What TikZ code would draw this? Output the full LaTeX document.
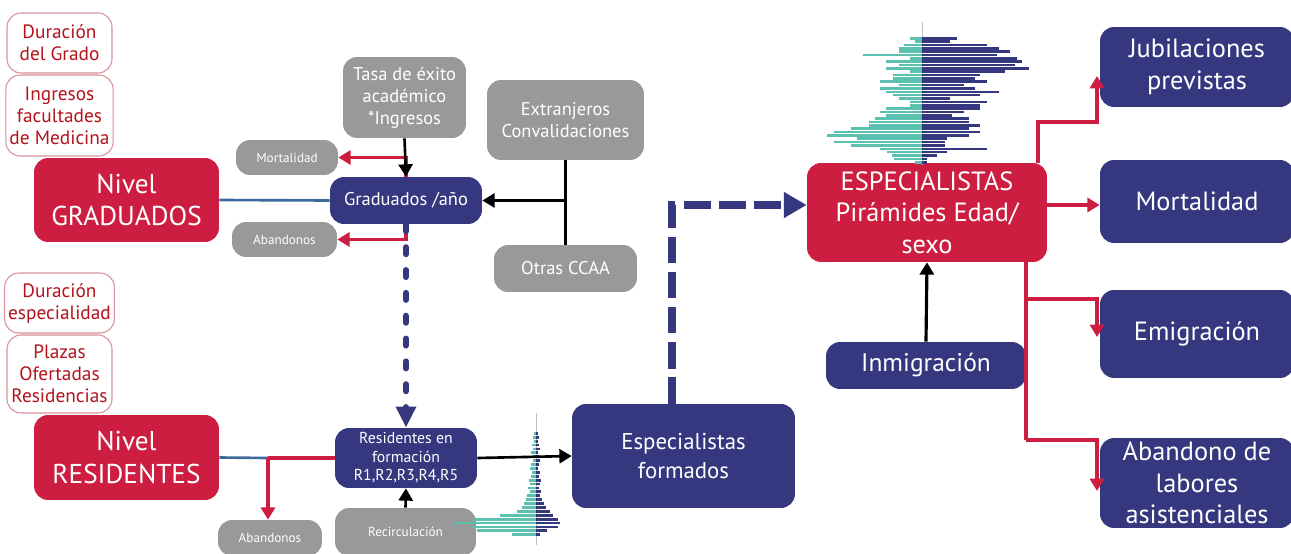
\documentclass[tikz,border=0pt]{standalone}
\usepackage{fontspec}
\setmainfont{PT Sans}
\usepackage{tikz}
\usetikzlibrary{arrows.meta}
\definecolor{crim}{HTML}{CD1E41}
\definecolor{navy}{HTML}{35387F}
\definecolor{grey}{HTML}{999999}
\definecolor{pyrteal}{HTML}{5CC0B0}
\definecolor{steel}{HTML}{3D6A9C}
\definecolor{dred}{HTML}{B5121B}
\definecolor{rimred}{HTML}{D9909B}
\tikzset{
  box/.style={rounded corners=8pt, align=center, inner sep=2pt, text=white},
  crbox/.style={box, fill=crim},
  nvbox/.style={box, fill=navy},
  gybox/.style={box, fill=grey},
  inbox/.style={box, draw=rimred, fill=white, text=dred, line width=0.6pt, font=\fontsize{11}{12.5}\selectfont},
  fbig/.style={font=\fontsize{15.5}{18.5}\selectfont},
  fright/.style={font=\fontsize{15}{18}\selectfont},
  fmid/.style={font=\fontsize{10.5}{12.5}\selectfont},
  fres/.style={font=\fontsize{9}{10.5}\selectfont},
  ftiny/.style={font=\fontsize{7.5}{8.5}\selectfont},
  rarr/.style={draw=crim, line width=2pt, -{Triangle[width=8pt,length=7pt]}},
  barr/.style={draw=black, line width=1.5pt, -{Triangle[width=8pt,length=7pt]}},
  blink/.style={draw=steel, line width=1.5pt},
  rlink/.style={draw=crim, line width=2pt},
  dotflow/.style={draw=navy, line width=3.4pt, line cap=round, dash pattern=on 4pt off 9pt, -{Triangle[width=11pt,length=12pt]}},
  dashflow/.style={draw=navy, line width=4pt, dash pattern=on 15pt off 5pt, -{Triangle[width=14pt,length=13pt]}},
}

\begin{document}
\begin{tikzpicture}[x=0.02cm, y=-0.02cm]
  \useasboundingbox (0,0) rectangle (1291,554);
  \clip (0,0) rectangle (1291,554);

  % graduates level
  \node[inbox, minimum width=2.1cm, minimum height=1.2cm] (durG) at (59.5,43) {Duración\\del Grado};
  \node[inbox, minimum width=2.1cm, minimum height=1.62cm] (ingF) at (59.5,115.5) {Ingresos\\facultades\\de Medicina};
  \node[crbox, fbig, minimum width=3.7cm, minimum height=1.68cm] (nivG) at (126.5,200) {Nivel\\GRADUADOS};
  \node[gybox, ftiny, minimum width=2.04cm, minimum height=0.7cm] (mortG) at (287,157.5) {Mortalidad};
  \node[gybox, ftiny, minimum width=2.1cm, minimum height=0.7cm] (abanG) at (284.5,239.5) {Abandonos};
  \node[gybox, fmid, minimum width=2.46cm, minimum height=1.62cm] (tasa) at (404.5,97.5) {Tasa de éxito\\académico\\*Ingresos};
  \node[nvbox, fmid, minimum width=3.04cm, minimum height=0.94cm] (grad) at (406,200.5) {Graduados /año};
  \node[gybox, fmid, minimum width=3.14cm, minimum height=1.6cm] (extr) at (565.5,120) {Extranjeros\\Convalidaciones};
  \node[gybox, fmid, minimum width=2.86cm, minimum height=0.94cm] (otras) at (565.5,268.5) {Otras CCAA};

  % residents level
  \node[inbox, minimum width=2.1cm, minimum height=1.2cm] (durE) at (59.5,303) {Duración\\especialidad};
  \node[inbox, minimum width=2.1cm, minimum height=1.56cm] (plaz) at (59.5,374) {Plazas\\Ofertadas\\Residencias};
  \node[crbox, fbig, minimum width=3.7cm, minimum height=1.7cm] (nivR) at (126.5,457.5) {Nivel\\RESIDENTES};
  \node[nvbox, fres, minimum width=2.84cm, minimum height=1.2cm] (resi) at (406,458) {Residentes en\\formación\\R1,R2,R3,R4,R5};
  \node[gybox, ftiny, minimum width=2.08cm, minimum height=0.72cm] (abanR) at (270,538) {Abandonos};
  \node[gybox, ftiny, minimum width=2.82cm, minimum height=0.96cm] (recir) at (405.5,532) {Recirculación};
  \node[nvbox, font=\fontsize{13}{16}\selectfont, minimum width=4.46cm, minimum height=2.08cm] (espF) at (683.5,456) {Especialistas\\formados};

  % specialists
  \node[crbox, font=\fontsize{15}{18}\selectfont, minimum width=4.8cm, minimum height=1.98cm] (espE) at (927,212.5) {ESPECIALISTAS\\Pirámides Edad/\\sexo};
  \node[nvbox, font=\fontsize{14.5}{16}\selectfont, minimum width=4cm, minimum height=0.94cm] (inmi) at (926,365.5) {Inmigración};
  \node[nvbox, fright, minimum width=3.88cm, minimum height=1.6cm] (jubi) at (1197,67) {Jubilaciones\\previstas};
  \node[nvbox, fright, minimum width=3.88cm, minimum height=1.66cm] (mortE) at (1197,201.5) {Mortalidad};
  \node[nvbox, fright, minimum width=3.88cm, minimum height=1.76cm] (emig) at (1197,334) {Emigración};
  \node[nvbox, fright, minimum width=3.88cm, minimum height=1.8cm] (aban) at (1197,483) {Abandono de\\labores\\asistenciales};

  % age pyramids
  \draw[gray!50, line width=0.5pt] (922,22) -- (922,165);
  \foreach \l/\r [count=\i] in {12/35, 7/28, 18/65, 23/77, 23/88, 59/75, 12/95, 36/100, 23/93, 36/107, 12/83, 29/58, 29/53, 42/65, 23/42, 42/53, 36/77, 29/58, 23/28, 12/65, 12/58, 36/58, 42/42, 36/30, 47/47, 53/47, 53/58, 71/47, 88/58, 95/47, 65/25, 88/23, 71/23, 42/65, 35/25, 30/15, 28/5, 7/5}{
    \fill[pyrteal] ({922-\l},{33.6+3.35*\i}) rectangle (922,{36.2+3.35*\i});
    \fill[navy] (922,{33.6+3.35*\i}) rectangle ({922+\r},{36.2+3.35*\i});
  }
  \draw[gray!50, line width=0.5pt] (536,413) -- (536,545);
  \foreach \l/\r [count=\i] in {2/2, 3/3, 2/2, 4/3, 3/4, 5/2, 4/3, 3/4, 5/3, 6/2, 4/4, 5/3, 7/5, 6/4, 8/3, 6/5, 9/4, 10/6, 12/8, 14/10, 19/14, 36/17, 63/22, 83/24, 64/22, 59/11, 24/4}{
    \fill[pyrteal] ({536-\l},{428+3.9*\i}) rectangle (536,{430.8+3.9*\i});
    \fill[navy] (536,{428+3.9*\i}) rectangle ({536+\r},{430.8+3.9*\i});
  }

  % graduates flows
  \draw[blink] (nivG.east) -- (grad.west);
  \draw[rarr] (grad.north) |- (mortG.east);
  \draw[barr] (tasa.south) -- (grad.north);
  \draw[rarr] (grad.south) |- (abanG.east);
  \draw[barr, -] (extr.south) -- (otras.north);
  \coordinate (je) at (extr.south |- grad.east);
  \draw[barr] (je) -- (grad.east);
  \draw[dotflow] (grad.south) -- (resi.north);

  % residents flows
  \coordinate (jr) at (268,458);
  \draw[blink] (nivR.east) -- (jr);
  \draw[rlink] (jr) -- (resi.west);
  \draw[rarr] (jr) -- (abanR.north -| jr);
  \draw[barr] (recir.north) -- (resi.south);
  \draw[barr] (resi.east) -- (espF.west);
  \coordinate (dk) at (672,205);
  \draw[dashflow] (espF.north -| dk) -- (dk) -- (espE.west |- dk);

  % specialists flows
  \draw[barr, line width=1.8pt] (inmi.north) -- (espE.south);
  \coordinate (ja) at (1038,122);
  \coordinate (jb) at (1097,122);
  \draw[rarr] (espE.north -| ja) -- (ja) -- (jb) -- (jb |- 0,76);
  \draw[rarr] (espE.east |- 0,205) -- (mortE.west |- 0,205);
  \coordinate (jc) at (1026,299);
  \coordinate (jd) at (1026,440);
  \draw[rlink] (espE.south -| jc) -- (jd);
  \draw[rarr] (jc) -- (1097,299) -- (1097,337);
  \draw[rarr] (jd) -- (1097,440) -- (1097,491);
\end{tikzpicture}
\end{document}
